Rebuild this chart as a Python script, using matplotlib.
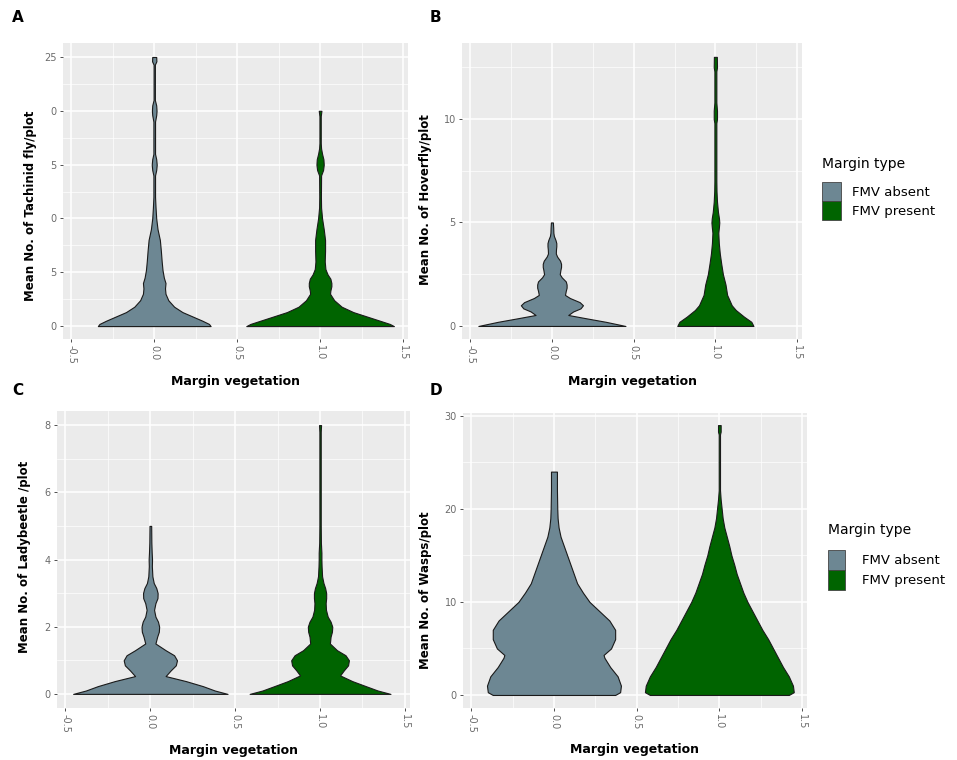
import matplotlib
matplotlib.use("Agg")
import matplotlib.pyplot as plt
from matplotlib.patches import Patch
from matplotlib.ticker import MultipleLocator

# Colours for the two margin types
col_absent = "#6d8793"
col_present = "#006400"

x_ticks = [-0.5, 0.0, 0.5, 1.0, 1.5]
x_ticklabels = ["-0.5", "0.0", "0.5", "1.0", "1.5"]

# Panel A - Tachinid fly (violin outline: y value, half width)
a_abs_y = [0, 0.2, 0.5, 0.9, 1.3, 1.8, 2.4, 3.0, 3.5, 4.0, 4.5, 5.2, 6.0, 7.0, 8.0, 9.0,
           10.0, 11.0, 12.0, 14.0, 14.5, 15.0, 15.5, 16.0, 19.0, 19.6, 20.0, 20.5, 21.0,
           24.3, 24.6, 25.0]
a_abs_w = [0.34, 0.33, 0.29, 0.23, 0.17, 0.12, 0.085, 0.068, 0.065, 0.068, 0.058, 0.05,
           0.045, 0.04, 0.034, 0.02, 0.012, 0.008, 0.005, 0.005, 0.012, 0.015, 0.012,
           0.005, 0.005, 0.012, 0.014, 0.012, 0.004, 0.004, 0.013, 0.012]
a_pre_y = [0, 0.2, 0.5, 0.9, 1.3, 1.8, 2.4, 3.0, 3.3, 3.7, 4.0, 4.4, 4.8, 5.3, 6.0, 7.0,
           8.0, 9.0, 10.0, 11.0, 12.0, 14.0, 14.5, 15.0, 15.5, 16.0, 16.5, 17.0, 19.5, 20.0]
a_pre_w = [0.445, 0.42, 0.36, 0.28, 0.2, 0.13, 0.085, 0.06, 0.062, 0.068, 0.068, 0.062,
           0.045, 0.032, 0.028, 0.03, 0.03, 0.022, 0.012, 0.006, 0.005, 0.006, 0.018,
           0.022, 0.02, 0.012, 0.006, 0.004, 0.004, 0.008]

# Panel B - Hoverfly
b_abs_y = [0, 0.2, 0.37, 0.53, 0.7, 0.85, 1.0, 1.15, 1.35, 1.5, 1.7, 1.85, 2.0, 2.15,
           2.35, 2.5, 2.7, 2.85, 3.0, 3.15, 3.35, 3.5, 3.7, 3.85, 4.0, 4.15, 4.35, 4.5,
           4.75, 5.0]
b_abs_w = [0.45, 0.33, 0.21, 0.1, 0.13, 0.175, 0.19, 0.17, 0.11, 0.08, 0.085, 0.09,
           0.09, 0.085, 0.06, 0.048, 0.052, 0.056, 0.056, 0.05, 0.032, 0.024, 0.025,
           0.027, 0.027, 0.022, 0.012, 0.009, 0.008, 0.006]
b_pre_y = [0, 0.2, 0.45, 0.77, 1.0, 1.5, 2.0, 2.5, 3.0, 3.5, 4.0, 4.5, 4.8, 5.0, 5.2,
           5.5, 6.0, 6.5, 7.0, 9.8, 10.0, 10.4, 10.8, 12.3, 12.5, 13.0]
b_pre_w = [0.233, 0.22, 0.175, 0.125, 0.1, 0.072, 0.062, 0.046, 0.036, 0.027, 0.021,
           0.018, 0.022, 0.024, 0.022, 0.016, 0.01, 0.007, 0.006, 0.006, 0.01, 0.01,
           0.006, 0.006, 0.01, 0.009]

# Panel C - Ladybeetle
c_abs_y = [0, 0.1, 0.23, 0.38, 0.53, 0.7, 0.85, 1.0, 1.15, 1.3, 1.5, 1.7, 1.85, 2.0,
           2.15, 2.3, 2.5, 2.7, 2.85, 3.0, 3.15, 3.3, 3.5, 3.8, 4.0, 4.2, 4.5, 5.0]
c_abs_w = [0.455, 0.38, 0.31, 0.21, 0.09, 0.12, 0.15, 0.157, 0.14, 0.09, 0.03, 0.04,
           0.05, 0.052, 0.045, 0.03, 0.022, 0.03, 0.042, 0.043, 0.035, 0.02, 0.012,
           0.009, 0.01, 0.008, 0.006, 0.005]
c_pre_y = [0, 0.1, 0.23, 0.38, 0.55, 0.7, 0.85, 1.0, 1.15, 1.3, 1.5, 1.7, 1.85, 2.0,
           2.15, 2.3, 2.5, 2.7, 2.85, 3.0, 3.15, 3.3, 3.5, 3.8, 4.0, 4.2, 4.5, 5.0, 7.8, 8.0]
c_pre_w = [0.415, 0.34, 0.27, 0.19, 0.118, 0.14, 0.165, 0.17, 0.15, 0.1, 0.058, 0.062,
           0.07, 0.072, 0.062, 0.045, 0.035, 0.033, 0.036, 0.036, 0.03, 0.02, 0.012,
           0.009, 0.008, 0.008, 0.005, 0.004, 0.004, 0.006]

# Panel D - Wasps
d_abs_y = [0, 0.3, 1, 2, 3, 4, 4.3, 5, 6, 7, 8, 9, 10, 11, 12, 13, 14, 15, 16, 17,
           18, 19, 20, 22, 24]
d_abs_w = [0.37, 0.4, 0.405, 0.385, 0.34, 0.305, 0.3, 0.345, 0.37, 0.37, 0.335, 0.275,
           0.215, 0.175, 0.14, 0.12, 0.10, 0.08, 0.06, 0.04, 0.028, 0.022, 0.02, 0.018,
           0.018]
d_pre_y = [0, 0.3, 1, 2, 3, 4, 5, 6, 7, 8, 9, 10, 11, 12, 13, 14, 15, 16, 17, 18, 19,
           20, 21, 22, 28, 28.3, 29]
d_pre_w = [0.42, 0.45, 0.445, 0.42, 0.385, 0.355, 0.325, 0.295, 0.26, 0.23, 0.2, 0.17,
           0.145, 0.125, 0.105, 0.09, 0.073, 0.06, 0.045, 0.03, 0.02, 0.014, 0.008,
           0.004, 0.004, 0.008, 0.008]

fig = plt.figure(figsize=(9.57, 7.6), dpi=100)
W, H = 957, 760


def add_panel(left, top, right, bottom):
    return fig.add_axes([left / W, 1 - bottom / H, (right - left) / W, (bottom - top) / H])


def violin(ax, center, ys, ws, color):
    lo = [center - w for w in ws]
    hi = [center + w for w in ws]
    ax.fill_betweenx(ys, lo, hi, facecolor=color, edgecolor="#1a1a1a", lw=0.8, zorder=3)


def style(ax, ylim, yticks, yticklabels, yminor, ylabel, ylab_pos):
    ax.set_facecolor("#ebebeb")
    for s in ax.spines.values():
        s.set_visible(False)
    ax.set_xlim(-0.55, 1.53)
    ax.set_ylim(*ylim)
    ax.set_xticks(x_ticks)
    ax.set_xticklabels(x_ticklabels, rotation=270)
    ax.set_yticks(yticks)
    ax.set_yticklabels(yticklabels)
    ax.xaxis.set_minor_locator(MultipleLocator(0.25))
    ax.yaxis.set_minor_locator(MultipleLocator(yminor))
    ax.grid(True, which="major", color="white", lw=1.1)
    ax.grid(True, which="minor", color="white", lw=0.5)
    ax.set_axisbelow(True)
    ax.tick_params(which="major", length=2.5, width=0.6, color="#333333",
                   labelsize=7, labelcolor="#6b6b6b", pad=2)
    ax.tick_params(which="minor", length=0)
    ax.set_xlabel("Margin vegetation", fontsize=9, fontweight="bold")
    ax.set_ylabel(ylabel, fontsize=8.5, fontweight="bold")
    ax.xaxis.set_label_coords(0.5, -0.12)
    ax.yaxis.set_label_coords(*ylab_pos)


# A
ax = add_panel(63, 43, 408, 339)
violin(ax, 0, a_abs_y, a_abs_w, col_absent)
violin(ax, 1, a_pre_y, a_pre_w, col_present)
style(ax, (-1.2, 26.3), [0, 5, 10, 15, 20, 25], ["0", "5", "0", "5", "0", "25"], 2.5,
      "Mean No. of Tachinid fly/plot", (-0.075, 0.45))

# B
ax = add_panel(462, 43, 802, 339)
violin(ax, 0, b_abs_y, b_abs_w, col_absent)
violin(ax, 1, b_pre_y, b_pre_w, col_present)
style(ax, (-0.63, 13.67), [0, 5, 10], ["0", "5", "10"], 2.5,
      "Mean No. of Hoverfly/plot", (-0.088, 0.47))

# C
ax = add_panel(57, 411, 410, 708)
violin(ax, 0, c_abs_y, c_abs_w, col_absent)
violin(ax, 1, c_pre_y, c_pre_w, col_present)
style(ax, (-0.42, 8.42), [0, 2, 4, 6, 8], ["0", "2", "4", "6", "8"], 1,
      "Mean No. of Ladybeetle /plot", (-0.075, 0.51))

# D
ax = add_panel(463, 413, 807, 708)
violin(ax, 0, d_abs_y, d_abs_w, col_absent)
violin(ax, 1, d_pre_y, d_pre_w, col_present)
style(ax, (-1.4, 30.3), [0, 10, 20, 30], ["0", "10", "20", "30"], 5,
      "Mean No. of Wasps/plot", (-0.09, 0.40))

# panel letters
for letter, x, y in [("A", 12, 18), ("B", 430, 18), ("C", 12, 390), ("D", 430, 390)]:
    fig.text(x / W, 1 - y / H, letter, fontsize=11, fontweight="bold", va="center")

# legends (title drawn as text, keys as a figure legend)
handles = [Patch(facecolor=col_absent, edgecolor="#444444", lw=0.6, label="FMV absent"),
           Patch(facecolor=col_present, edgecolor="#444444", lw=0.6, label="FMV present")]
legend_spots = [(822, 164, 182, 1.45, 1.85, 0.8), (828, 530, 550, 1.3, 1.95, 1.3)]
for lx, ty, by, hl, hh, tp in legend_spots:
    fig.text(lx / W, 1 - ty / H, "Margin type", fontsize=10, va="center", ha="left")
    fig.legend(handles=handles, loc="upper left", bbox_to_anchor=(lx / W, 1 - by / H),
               frameon=False, fontsize=9.5, borderpad=0, borderaxespad=0,
               handlelength=hl, handleheight=hh, handletextpad=tp, labelspacing=0.0)

fig.savefig("out.png", dpi=100)
